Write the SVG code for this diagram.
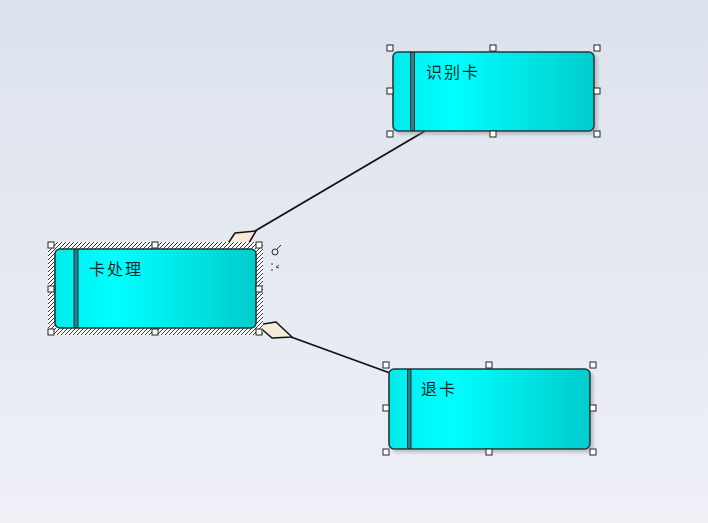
<svg xmlns="http://www.w3.org/2000/svg" width="708" height="523" viewBox="0 0 708 523">
<defs>
<linearGradient id="bg" x1="0" y1="0" x2="0" y2="1">
<stop offset="0" stop-color="#dce2ed"/>
<stop offset="1" stop-color="#eef0f6"/>
</linearGradient>
<linearGradient id="nodeFill" x1="0" y1="0" x2="1" y2="0">
<stop offset="0" stop-color="#00eaea"/>
<stop offset="0.12" stop-color="#00f4f4"/>
<stop offset="0.3" stop-color="#00ffff"/>
<stop offset="1" stop-color="#00cccc"/>
</linearGradient>
<pattern id="hatch" width="4" height="4" patternUnits="userSpaceOnUse">
<rect width="4" height="4" fill="#ffffff"/>
<path d="M-1,1 L1,-1 M0,4 L4,0 M3,5 L5,3" stroke="#333" stroke-width="1"/>
</pattern>
<filter id="shadow" x="-5%" y="-5%" width="115%" height="120%">
<feDropShadow dx="3" dy="3" stdDeviation="1.5" flood-color="#8a9099" flood-opacity="0.45"/>
</filter>
</defs>
<style>
.box{fill:url(#nodeFill);stroke:#1c3a3a;stroke-width:1.6;filter:url(#shadow)}
.bar{fill:#2b7f86;stroke:#1c3a3a;stroke-width:1}
.lbl{font-family:"Noto Sans CJK SC","Liberation Sans",sans-serif;font-size:16px;fill:#0b2a2a;letter-spacing:2px}
.h{fill:#ffffff;stroke:#222;stroke-width:1}
.edge{stroke:#111;stroke-width:1.8;fill:none}
.dia{fill:#f6ead8;stroke:#111;stroke-width:1.5;stroke-linejoin:round}
</style>
<rect width="708" height="523" fill="url(#bg)"/>

<g id="connectors">
<line class="edge" x1="425" y1="131" x2="255" y2="231"/>
<polygon class="dia" points="256,231 235,233 225,248 246,248"/>
<line class="edge" x1="291" y1="337" x2="390" y2="373"/>
<polygon class="dia" points="257,325 276,322 292,337 272,338"/>
</g>

<g id="node-shibieka">
<rect class="box" x="393" y="52" width="201" height="79" rx="5"/>
<rect class="bar" x="410.5" y="52.5" width="4" height="78" />
<text class="lbl" x="426" y="78">识别卡</text>
<rect class="h" x="387" y="45" width="6" height="6"/>
<rect class="h" x="490" y="45" width="6" height="6"/>
<rect class="h" x="594" y="45" width="6" height="6"/>
<rect class="h" x="387" y="88" width="6" height="6"/>
<rect class="h" x="594" y="88" width="6" height="6"/>
<rect class="h" x="387" y="131" width="6" height="6"/>
<rect class="h" x="490" y="131" width="6" height="6"/>
<rect class="h" x="594" y="131" width="6" height="6"/>
</g>

<g id="node-kachuli">
<path d="M48,242 H263 V335 H48 Z M55,249 V328 H256 V249 Z" fill="url(#hatch)" fill-rule="evenodd"/>
<rect class="box" x="55" y="249" width="201" height="79" rx="5" style="filter:none"/>
<rect class="bar" x="74" y="249.5" width="4" height="78"/>
<text class="lbl" x="89" y="275">卡处理</text>
<rect class="h" x="48" y="242" width="6" height="6"/>
<rect class="h" x="152" y="242" width="6" height="6"/>
<rect class="h" x="256" y="242" width="6" height="6"/>
<rect class="h" x="48" y="286" width="6" height="6"/>
<rect class="h" x="256" y="286" width="6" height="6"/>
<rect class="h" x="48" y="329" width="6" height="6"/>
<rect class="h" x="152" y="329" width="6" height="6"/>
<rect class="h" x="256" y="329" width="6" height="6"/>
<circle cx="275" cy="252" r="3" fill="none" stroke="#222" stroke-width="1"/>
<line x1="277" y1="249" x2="281" y2="245" stroke="#222" stroke-width="1"/>
<circle cx="272" cy="264" r="0.8" fill="#222"/>
<circle cx="272" cy="270" r="0.8" fill="#222"/>
<path d="M276,267 L279,265 M276,267 L279,268" stroke="#222" stroke-width="0.8" fill="none"/>
</g>

<g id="node-tuika">
<rect class="box" x="389" y="369" width="201" height="80" rx="5"/>
<rect class="bar" x="407.5" y="369.5" width="3.5" height="79"/>
<text class="lbl" x="421" y="395">退卡</text>
<rect class="h" x="383" y="362" width="6" height="6"/>
<rect class="h" x="486" y="362" width="6" height="6"/>
<rect class="h" x="590" y="362" width="6" height="6"/>
<rect class="h" x="383" y="405" width="6" height="6"/>
<rect class="h" x="590" y="405" width="6" height="6"/>
<rect class="h" x="383" y="449" width="6" height="6"/>
<rect class="h" x="486" y="449" width="6" height="6"/>
<rect class="h" x="590" y="449" width="6" height="6"/>
</g>
</svg>
